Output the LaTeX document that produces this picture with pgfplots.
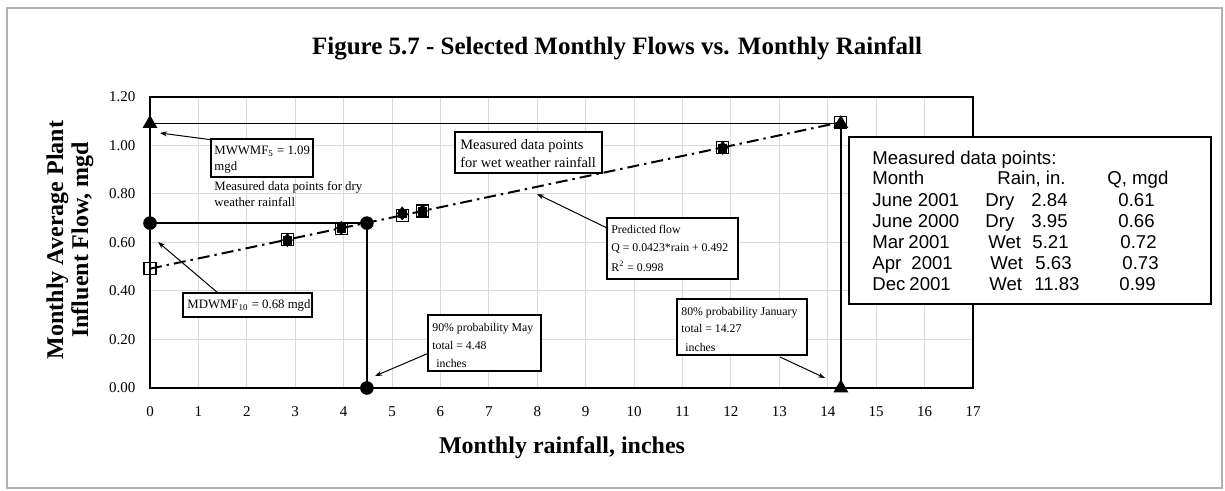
\documentclass[border=0pt]{standalone}
\usepackage{pgfplots}
\pgfplotsset{compat=1.18}
\usepackage{fontspec}
\setmainfont{Liberation Serif}
\newfontfamily\arial{Liberation Sans}
\usetikzlibrary{arrows.meta}
\usepackage{graphicx}
\begin{document}
\begin{tikzpicture}[x=0.5pt,y=-0.5pt]
\useasboundingbox (0,0) rectangle (1225,491);
\draw[gray!60, line width=0.8pt] (7,8) rectangle (1222,488);
\begin{axis}[
  at={(75pt,-194pt)}, anchor=south west,
  width=411.5pt, height=145.5pt, scale only axis,
  xmin=0, xmax=17, ymin=0, ymax=1.2,
  xtick={0,1,...,17}, ytick={0,0.2,0.4,0.6,0.8,1.0,1.2},
  grid=major, major grid style={gray!30, line width=0.5pt},
  major tick length=0pt,
  axis line style={line width=0.8pt},
  /pgf/number format/assume math mode=true,
  ticklabel style={font=\fontsize{7.5}{9}\selectfont},
  yticklabel style={/pgf/number format/fixed, /pgf/number format/fixed zerofill, /pgf/number format/precision=2, xshift=-3.8pt},
  xticklabel style={text height=5.2pt, text depth=0pt, yshift=-5.5pt},
  clip=false,
]
\addplot[black, line width=1pt, dash pattern=on 6pt off 2.5pt on 1.2pt off 2.5pt,
  mark=square, mark size=3pt, mark options={solid, line width=0.6pt}]
  coordinates {(0,0.492)(2.84,0.612)(3.95,0.659)(5.21,0.712)(5.63,0.730)(11.83,0.992)(14.27,1.096)};
\addplot[black, line width=0.8pt, mark=*, mark size=3pt]
  coordinates {(0,0.68)(4.48,0.68)(4.48,0)};
\addplot[black, line width=0.8pt, mark=triangle*, mark size=3.5pt]
  coordinates {(0,1.09)(14.27,1.09)(14.27,0)};
\addplot[black, only marks, mark=diamond*, mark size=3.2pt]
  coordinates {(2.84,0.61)(3.95,0.66)(5.21,0.72)(5.63,0.73)(11.83,0.99)};
\addplot[black, only marks, mark=square*, mark size=2pt]
  coordinates {(2.84,0.61)(3.95,0.66)(5.21,0.72)(5.63,0.73)(11.83,0.99)};
\end{axis}
% title and axis labels
\node[anchor=base, inner sep=0, font=\fontsize{12.5}{14}\selectfont\bfseries] at (617,55) {Figure 5.7 - Selected Monthly Flows vs. Monthly Rainfall};
\node[anchor=base, inner sep=0, font=\fontsize{12}{14}\selectfont\bfseries] at (562,453) {Monthly rainfall, inches};
\node[anchor=base, rotate=90, inner sep=0, font=\fontsize{12}{14}\selectfont\bfseries] at (63,240) {Monthly Average Plant};
\node[anchor=base, rotate=90, inner sep=0, font=\fontsize{12}{14}\selectfont\bfseries] at (88,240) {Influent Flow, mgd};
% arrows
\tikzset{arr/.style={-{Stealth[length=3.5pt,width=2.5pt]}, line width=0.5pt}}
\draw[arr] (213,140) -- (160,133);
\draw[arr] (218,293) -- (158,242);
\draw[arr] (607,228) -- (537,194);
\draw[arr] (429,353) -- (375,376);
\draw[arr] (780,357) -- (825,378);
% annotation boxes
\tikzset{ann/.style={anchor=base west, inner sep=0, font=\fontsize{6.4}{8}\selectfont}}
\tikzset{anns/.style={anchor=base west, inner sep=0, font=\fontsize{5.9}{8}\selectfont}}
\draw[fill=white, line width=0.6pt] (211,139) rectangle (313,177);
\node[ann] at (214,155) {MWWMF\textsubscript{5} = 1.09};
\node[ann] at (214,171) {mgd};
\node[ann] at (214,191) {Measured data points for dry};
\node[ann] at (214,207) {weather rainfall};
\draw[fill=white, line width=0.6pt] (183,293) rectangle (312,317);
\node[ann] at (187,309) {MDWMF\textsubscript{10} = 0.68 mgd};
\draw[fill=white, line width=0.6pt] (455,132) rectangle (602,173);
\node[ann, font=\fontsize{7.2}{9}\selectfont] at (460,150) {Measured data points};
\node[ann, font=\fontsize{7.2}{9}\selectfont] at (460,168) {for wet weather rainfall};
\draw[fill=white, line width=0.6pt] (607,218) rectangle (738,279);
\node[anns] at (611,234) {Predicted flow};
\node[anns] at (611,252) {Q = 0.0423*rain + 0.492};
\node[anns] at (611,272) {R\textsuperscript{2} = 0.998};
\draw[fill=white, line width=0.6pt] (428,315) rectangle (541,371);
\node[anns] at (432,332) {90\% probability May};
\node[anns] at (432,350) {total = 4.48};
\node[anns] at (436,367) {inches};
\draw[fill=white, line width=0.6pt] (677,299) rectangle (807,355);
\node[anns] at (681,316) {80\% probability January};
\node[anns] at (681,333) {total = 14.27};
\node[anns] at (685,351) {inches};
% table box
\draw[fill=white, line width=0.8pt] (849,137) rectangle (1211,304);
\tikzset{tb/.style={anchor=base west, inner sep=0, font=\arial\fontsize{9.3}{11}\selectfont}}
\node[tb] at (872,165) {Measured data points:};
\node[tb] at (872,185) {Month};
\node[tb] at (997,185) {Rain, in.};
\node[tb] at (1107,185) {Q, mgd};
\node[tb] at (872,207) {June 2001}; \node[tb] at (985,207) {Dry}; \node[tb] at (1031,207) {2.84}; \node[tb] at (1118,207) {0.61};
\node[tb] at (872,228) {June 2000}; \node[tb] at (985,228) {Dry}; \node[tb] at (1031,228) {3.95}; \node[tb] at (1118,228) {0.66};
\node[tb] at (872,249) {Mar}; \node[tb] at (908,249) {2001}; \node[tb] at (988,249) {Wet}; \node[tb] at (1032,249) {5.21}; \node[tb] at (1120,249) {0.72};
\node[tb] at (872,270) {Apr}; \node[tb] at (911,270) {2001}; \node[tb] at (990,270) {Wet}; \node[tb] at (1035,270) {5.63}; \node[tb] at (1122,270) {0.73};
\node[tb] at (872,291) {Dec}; \node[tb] at (909,291) {2001}; \node[tb] at (989,291) {Wet}; \node[tb] at (1034,291) {11.83}; \node[tb] at (1119,291) {0.99};
\end{tikzpicture}
\end{document}
